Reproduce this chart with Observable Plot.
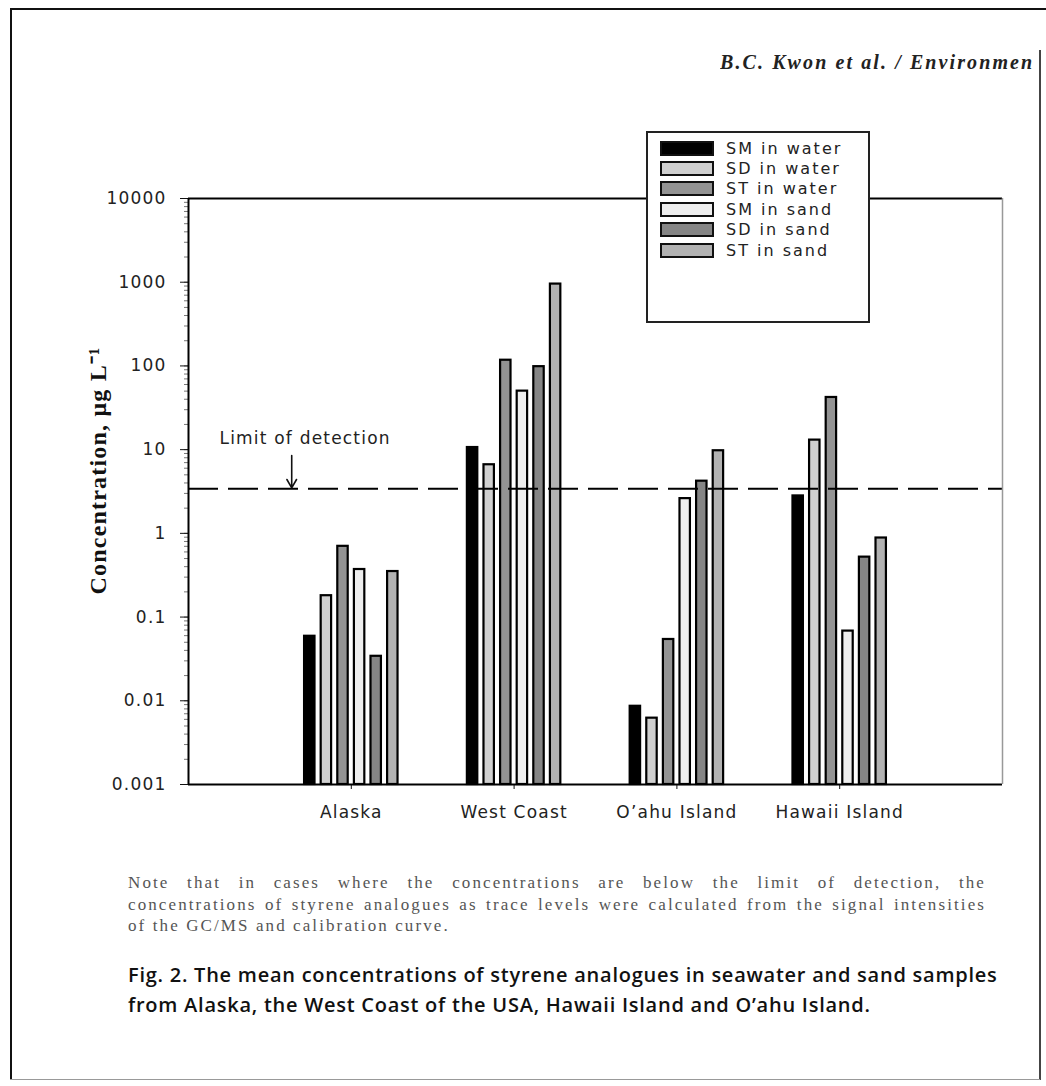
<!DOCTYPE html>
<html>
<head>
<meta charset="utf-8">
<script src="https://cdn.jsdelivr.net/npm/d3@7"></script>
<script src="https://cdn.jsdelivr.net/npm/@observablehq/plot@0.6"></script>
<style>
  body { margin: 0; background: #fff; }
  #page { position: relative; width: 1046px; height: 1086px; overflow: hidden; background: #fff; }
  #chart { position: absolute; left: 0; top: 120px; }
  .line { position: absolute; background: #111; }
  #header { position: absolute; left: 720px; top: 51px; width: 319px; overflow: hidden; font-family: "Liberation Serif", serif; font-style: italic; font-weight: bold; font-size: 20px; letter-spacing: 2.1px; color: #222; white-space: nowrap; }
  #legend { position: absolute; left: 646px; top: 131px; width: 220px; height: 188px; border: 2px solid #222; background: #fff; font-family: "DejaVu Sans", sans-serif; font-size: 16px; letter-spacing: 2px; color: #222; }
  .row { position: absolute; left: 12px; height: 20px; display: flex; align-items: center; }
  .sw { width: 50px; height: 11px; border: 2px solid #111; margin-right: 12px; }
  #note { position: absolute; left: 128px; top: 872px; width: 858px; font-family: "Liberation Serif", serif; font-size: 17px; line-height: 21.5px; color: #555; letter-spacing: 2.1px; }
  #note div { text-align: justify; text-align-last: justify; white-space: nowrap; }
  #note div.last { text-align-last: left; }
  #caption { position: absolute; left: 128px; top: 960px; font-family: "Open Sans", sans-serif; font-weight: 600; font-size: 20px; line-height: 30px; color: #111; letter-spacing: 0.75px; white-space: nowrap; }
</style>
</head>
<body>
<div id="page">
  <div class="line" style="left:10px;top:8px;width:1036px;height:1.5px;"></div>
  <div class="line" style="left:10px;top:8px;width:1.5px;height:1072px;"></div>
  <div class="line" style="left:1039px;top:50px;width:1.5px;height:1030px;background:#444;"></div>
  <div class="line" style="left:10px;top:1079px;width:1030px;height:1px;background:#999;"></div>
  <div id="header">B.C. Kwon et al. / Environmen</div>
  <div id="chart"></div>
  <div id="legend"></div>
  <div id="note">
    <div>Note that in cases where the concentrations are below the limit of detection, the</div>
    <div>concentrations of styrene analogues as trace levels were calculated from the signal intensities</div>
    <div class="last">of the GC/MS and calibration curve.</div>
  </div>
  <div id="caption">Fig. 2. The mean concentrations of styrene analogues in seawater and sand samples<br>from Alaska, the West Coast of the USA, Hawaii Island and O’ahu Island.</div>
</div>
<script>
// ---- data ----
const sites = ["Alaska", "West Coast", "O’ahu Island", "Hawaii Island"];
const series = ["SM in water", "SD in water", "ST in water", "SM in sand", "SD in sand", "ST in sand"];
const smWater = [0.059, 10.6, 0.0086, 2.8];
const sdWater = [0.18, 6.6, 0.0062, 13];
const stWater = [0.70, 117, 0.054, 42];
const smSand  = [0.37, 50, 2.6, 0.068];
const sdSand  = [0.034, 98, 4.2, 0.52];
const stSand  = [0.35, 950, 9.7, 0.88];
const limitOfDetection = 3.4;
const yTickValues = [0.001, 0.01, 0.1, 1, 10, 100, 1000, 10000];
const yLabel = "Concentration, μg L⁻¹";
const lodLabel = "Limit of detection";

// ---- styles ----
const seriesFill = ["#000000", "#d0d0d0", "#939393", "#eeeeee", "#858585", "#b2b2b2"];
const yDomain = [0.001, 10000];
const pitch = 0.102, half = 0.032;

const values = [smWater, sdWater, stWater, smSand, sdSand, stSand];
const table = [];
sites.forEach((s, i) => series.forEach((k, j) => table.push({site: s, siteIndex: i + 1, series: k, seriesIndex: j, value: values[j][i]})));

const chart = Plot.plot({
  width: 1046, height: 740,
  marginTop: 78, marginBottom: 76, marginLeft: 188, marginRight: 44,
  style: {fontFamily: "DejaVu Sans, sans-serif", fontSize: "17px", letterSpacing: "1.2px", color: "#222", background: "transparent", overflow: "visible"},
  x: {type: "linear", domain: [0, sites.length + 1], axis: null},
  y: {type: "log", domain: yDomain, axis: null},
  color: {domain: series, range: seriesFill},
  marks: [
    Plot.axisY(d3.scaleLog().domain(yDomain).ticks(), {tickSize: 4, tickFormat: () => "", stroke: "#777", label: null}),
    Plot.axisY(yTickValues, {tickSize: 8, tickPadding: 14, tickFormat: d => String(d), label: null, stroke: "#111"}),
    Plot.axisX(sites.map((s, i) => i + 1), {tickSize: 5, tickPadding: 16, tickFormat: d => sites[d - 1], label: null, stroke: "#111", letterSpacing: "1.6px"}),
    Plot.rect(table, {
      x1: d => d.siteIndex + (d.seriesIndex - 2.5) * pitch - half,
      x2: d => d.siteIndex + (d.seriesIndex - 2.5) * pitch + half,
      y1: () => yDomain[0], y2: "value",
      fill: "series", stroke: "#000", strokeWidth: 2.2
    }),
    Plot.ruleY([limitOfDetection], {stroke: "#000", strokeWidth: 2, strokeDasharray: "30,10"}),
    Plot.ruleY([yDomain[1]], {stroke: "#000", strokeWidth: 2}),
    Plot.ruleY([yDomain[0]], {stroke: "#000", strokeWidth: 2}),
    Plot.ruleX([0], {stroke: "#000", strokeWidth: 2}),
    Plot.ruleX([sites.length + 1], {stroke: "#999", strokeWidth: 1.5}),
    Plot.text([lodLabel], {frameAnchor: "left", y: () => limitOfDetection, dx: 31, dy: -50, textAnchor: "start", fill: "#222", letterSpacing: "2.2px"}),
    Plot.arrow([limitOfDetection], {x1: () => 0.634, x2: () => 0.634, y1: d => d * 2.5, y2: d => d * 1.03, stroke: "#111", strokeWidth: 1.6, headLength: 9}),
    Plot.text([yLabel], {frameAnchor: "left", rotate: -90, dx: -90, dy: -21, textAnchor: "middle", fontFamily: "Liberation Serif, serif", fontWeight: "bold", fontSize: 24, letterSpacing: "0.6px", fill: "#111"})
  ]
});
document.getElementById("chart").appendChild(chart);

// legend
const legend = document.getElementById("legend");
series.forEach((s, i) => {
  const row = document.createElement("div");
  row.className = "row";
  row.style.top = (5 + i * 20.4) + "px";
  const sw = document.createElement("div");
  sw.className = "sw";
  sw.style.background = seriesFill[i];
  const t = document.createElement("span");
  t.textContent = s;
  row.appendChild(sw); row.appendChild(t);
  legend.appendChild(row);
});
</script>
</body>
</html>
